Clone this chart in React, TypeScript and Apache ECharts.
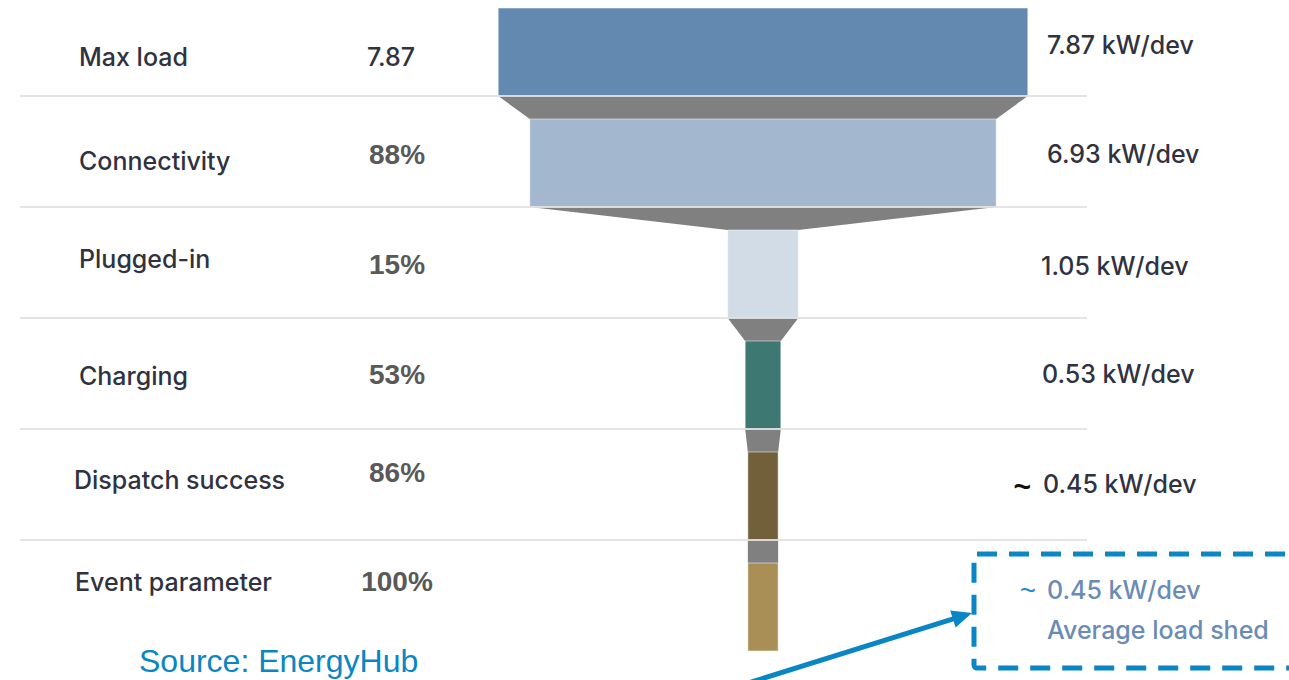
import React, { useEffect, useRef } from 'react';
import * as echarts from 'echarts';

// ---- Data ----
const stages = ['Max load', 'Connectivity', 'Plugged-in', 'Charging', 'Dispatch success', 'Event parameter'];
const stepLabels = ['7.87', '88%', '15%', '53%', '86%', '100%'];
const kwPerDevice = [7.87, 6.93, 1.05, 0.53, 0.45, 0.45];
const kwLabels = ['7.87 kW/dev', '6.93 kW/dev', '1.05 kW/dev', '0.53 kW/dev', '0.45 kW/dev', ''];
const approxFlags = [false, false, false, false, true, false];
const calloutValue = '0.45 kW/dev';
const calloutCaption = 'Average load shed';
const sourceText = 'Source: EnergyHub';

// ---- Styles / layout ----
const barColors = ['#6389b1', '#a3b7ce', '#d1dce6', '#3e7873', '#72603a', '#a98f55'];
const connectorColor = '#808080';
const W = 1289;
const H = 680;
const PX_PER_KW = 67.3;
const CENTER_X = 763;
const ROW_PX = 111;
const TOP_PX = 8;
const BAR_FRAC = 88 / 111;
const leftLabelX = [79, 79, 79, 79, 74, 75];
const leftLabelY = [57, 161, 259, 376, 480, 582];
const pctX = [391, 397, 397, 397, 397, 397];
const pctY = [57, 154, 264, 374, 472, 581];
const rightX = [1047, 1047, 1041, 1042, 1043, 0];
const rightY = [45, 154, 266, 374, 484, 0];
const SANS = 'Inter, "Noto Sans", sans-serif';
const ARIAL = '"Liberation Sans", Arial, sans-serif';
const DARK = '#30323f';

export default function App() {
  const ref = useRef<HTMLDivElement>(null);
  useEffect(() => {
    const chart = echarts.init(ref.current!, null, { renderer: 'svg' });
    const data = kwPerDevice.map((v, i) => [i, v, i < kwPerDevice.length - 1 ? kwPerDevice[i + 1] : -1]);

    const renderItem = (params: any, api: any) => {
      const i = api.value(0);
      const v = api.value(1);
      const n = api.value(2);
      const tl = api.coord([-v / 2, i]);
      const br = api.coord([v / 2, i + BAR_FRAC]);
      const children: any[] = [];
      children.push({
        type: 'rect',
        shape: { x: tl[0], y: tl[1], width: br[0] - tl[0], height: br[1] - tl[1] },
        style: { fill: barColors[i], stroke: 'rgba(255,255,255,0.5)', lineWidth: 1 },
      });
      if (n > 0) {
        const a = api.coord([-v / 2, i + BAR_FRAC]);
        const b = api.coord([v / 2, i + BAR_FRAC]);
        const c = api.coord([n / 2, i + 1]);
        const d = api.coord([-n / 2, i + 1]);
        children.push({ type: 'polygon', shape: { points: [a, b, c, d] }, style: { fill: connectorColor } });
        children.push({
          type: 'line',
          shape: { x1: 20, y1: br[1], x2: 1087, y2: br[1] },
          style: { stroke: 'rgba(225,225,225,0.9)', lineWidth: 2 },
        });
      }
      children.push({
        type: 'text',
        x: leftLabelX[i],
        y: leftLabelY[i],
        style: { text: stages[i], fill: DARK, fontSize: 25, fontWeight: 500, fontFamily: SANS, align: 'left', verticalAlign: 'middle' },
      });
      const isFirst = i === 0;
      children.push({
        type: 'text',
        x: pctX[i],
        y: pctY[i],
        style: {
          text: stepLabels[i],
          fill: isFirst ? DARK : '#595959',
          fontSize: isFirst ? 25 : 28,
          fontWeight: isFirst ? 500 : 'bold',
          fontFamily: isFirst ? SANS : ARIAL,
          align: 'center',
          verticalAlign: 'middle',
        },
      });
      if (kwLabels[i]) {
        children.push({
          type: 'text',
          x: rightX[i],
          y: rightY[i],
          style: { text: kwLabels[i], fill: DARK, fontSize: 25, fontWeight: 500, fontFamily: SANS, align: 'left', verticalAlign: 'middle' },
        });
        if (approxFlags[i]) {
          children.push({
            type: 'text',
            x: rightX[i] - 12,
            y: rightY[i] + 2,
            style: { text: '~', fill: '#111', fontSize: 30, fontWeight: 'bold', fontFamily: ARIAL, align: 'right', verticalAlign: 'middle' },
          });
        }
      }
      return { type: 'group', children };
    };

    // arrow geometry
    const ax0 = 745, ay0 = 684, tipX = 972, tipY = 613;
    const dx = tipX - ax0, dy = tipY - ay0;
    const len = Math.sqrt(dx * dx + dy * dy);
    const ux = dx / len, uy = dy / len;
    const headLen = 20, headHalf = 9;
    const bx = tipX - ux * headLen, by = tipY - uy * headLen;
    const px = -uy, py = ux;

    chart.setOption({
      animation: false,
      grid: { left: 0, right: 0, top: 0, bottom: 0, containLabel: false },
      xAxis: { type: 'value', min: -CENTER_X / PX_PER_KW, max: (W - CENTER_X) / PX_PER_KW, show: false },
      yAxis: { type: 'value', inverse: true, min: -TOP_PX / ROW_PX, max: (H - TOP_PX) / ROW_PX, show: false },
      series: [{ type: 'custom', data, renderItem, clip: false }],
      graphic: [
        {
          type: 'rect',
          shape: { x: 974, y: 554, width: 400, height: 114, r: 3 },
          style: { fill: 'none', stroke: '#0a86c4', lineWidth: 5, lineDash: [20, 12] },
          z: 10,
        },
        {
          type: 'text', x: 1036, y: 590,
          style: { text: '~', fill: '#2a8ac4', fontSize: 28, fontFamily: ARIAL, align: 'right', verticalAlign: 'middle' },
          z: 10,
        },
        {
          type: 'text', x: 1047, y: 590,
          style: { text: calloutValue, fill: '#6a8bb5', fontSize: 25, fontWeight: 500, fontFamily: SANS, align: 'left', verticalAlign: 'middle' },
          z: 10,
        },
        {
          type: 'text', x: 1047, y: 630,
          style: { text: calloutCaption, fill: '#6a8bb5', fontSize: 25, fontWeight: 500, fontFamily: SANS, align: 'left', verticalAlign: 'middle' },
          z: 10,
        },
        {
          type: 'line',
          shape: { x1: ax0, y1: ay0, x2: bx + ux * 2, y2: by + uy * 2 },
          style: { stroke: '#0a86c4', lineWidth: 5 },
          z: 10,
        },
        {
          type: 'polygon',
          shape: { points: [[tipX, tipY], [bx + px * headHalf, by + py * headHalf], [bx - px * headHalf, by - py * headHalf]] },
          style: { fill: '#0a86c4' },
          z: 10,
        },
        {
          type: 'text', x: 139, y: 661,
          style: { text: sourceText, fill: '#0a86c4', fontSize: 32, fontFamily: ARIAL, align: 'left', verticalAlign: 'middle' },
          z: 10,
        },
      ],
    });
    return () => chart.dispose();
  }, []);
  return <div ref={ref} style={{ position: 'fixed', left: 0, top: 0, width: W, height: H, background: '#fff' }} />;
}
